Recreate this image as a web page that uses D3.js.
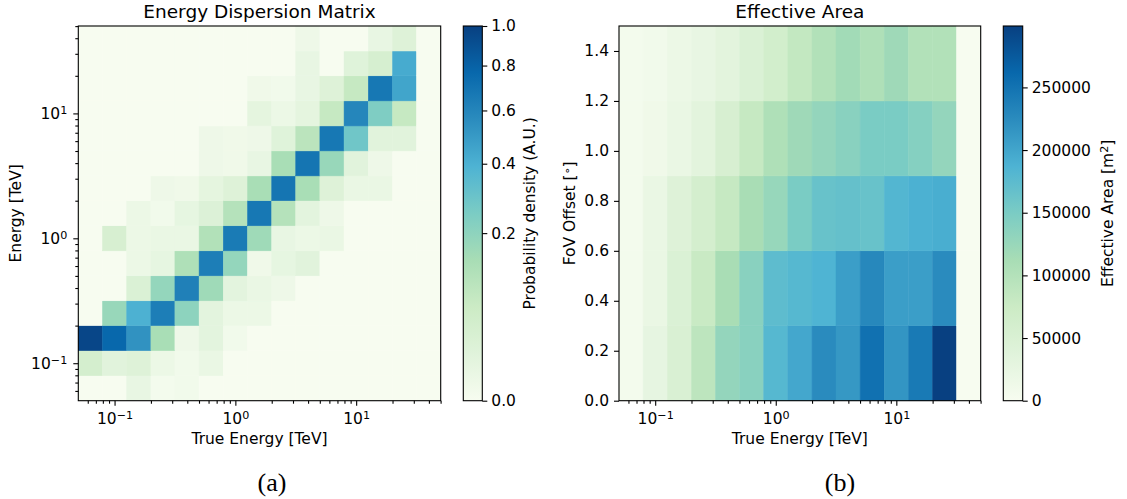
<!DOCTYPE html>
<html>
<head>
<meta charset="utf-8">
<script src="https://cdn.jsdelivr.net/npm/d3@7"></script>
<style>
body { margin:0; background:#fff; }
text { font-family: "DejaVu Sans", sans-serif; fill:#000; }
text.caption { font-family: "Liberation Serif", serif; }
</style>
</head>
<body>
<svg id="fig" width="1127" height="499"></svg>
<script>

// energy bin edges [TeV], 5 bins per decade
var energyEdges = [0.0501, 0.0794, 0.126, 0.2, 0.316, 0.501, 0.794, 1.26, 2.0, 3.16, 5.01, 7.94, 12.6, 20.0, 31.6, 50.1];
var offsetEdges = [0, 0.3, 0.6, 0.9, 1.2, 1.5];

var energyTicks = [0.1, 1, 10];
var densityTicks = [0, 0.2, 0.4, 0.6, 0.8, 1.0];
var offsetTicks = [0, 0.2, 0.4, 0.6, 0.8, 1.0, 1.2, 1.4];
var areaTicks = [0, 50000, 100000, 150000, 200000, 250000];

// rows: reconstructed energy bin (lowest first), columns: true energy bin
var dispersion = [
  [0, 0, 0.0064, 0.0004, 0.0009, 0, 0, 0, 0, 0, 0, 0, 0, 0, 0],
  [0.04, 0.0144, 0.0196, 0.0036, 0.0009, 0.0049, 0, 0, 0, 0, 0, 0, 0, 0, 0],
  [0.96, 0.766, 0.533, 0.137, 0.0025, 0.0121, 0.0009, 0, 0, 0, 0, 0, 0, 0, 0],
  [0, 0.176, 0.397, 0.64, 0.203, 0.0121, 0.0036, 0.0036, 0, 0, 0, 0, 0, 0, 0],
  [0, 0, 0.0256, 0.185, 0.624, 0.16, 0.0121, 0.0049, 0.0025, 0, 0, 0, 0, 0, 0],
  [0, 0, 0.0036, 0.0081, 0.123, 0.64, 0.185, 0.0016, 0.0081, 0.0144, 0, 0, 0, 0, 0],
  [0, 0.0324, 0.0036, 0.0049, 0.0049, 0.116, 0.656, 0.16, 0.0064, 0.0036, 0.0049, 0, 0, 0, 0],
  [0, 0, 0.0036, 0.0009, 0.0081, 0.0225, 0.109, 0.672, 0.109, 0.0121, 0.0025, 0, 0, 0, 0],
  [0, 0, 0, 0.0025, 0.0016, 0.01, 0.0196, 0.137, 0.689, 0.137, 0.0196, 0.0049, 0.0049, 0, 0],
  [0, 0, 0, 0, 0, 0.0025, 0.0016, 0.0064, 0.137, 0.689, 0.176, 0.0144, 0.0025, 0, 0],
  [0, 0, 0, 0, 0, 0.0025, 0.0016, 0.0025, 0.0169, 0.096, 0.672, 0.281, 0.0144, 0.0144, 0],
  [0, 0, 0, 0, 0, 0, 0, 0.01, 0.0036, 0.01, 0.073, 0.593, 0.24, 0.073, 0],
  [0, 0, 0, 0, 0, 0, 0, 0.0016, 0.0009, 0.0064, 0.0196, 0.073, 0.672, 0.449, 0],
  [0, 0, 0, 0, 0, 0, 0, 0, 0, 0.0064, 0, 0.0169, 0.0361, 0.423, 0],
  [0, 0, 0, 0, 0, 0, 0, 0, 0, 0.0025, 0, 0, 0.0064, 0.0196, 0]
];

// rows: FoV offset bin (0-0.3 first), columns: true energy bin [m^2]
var effArea = [
  [6000, 27000, 51000, 90000, 129000, 138000, 180000, 198000, 225000, 213000, 252000, 216000, 243000, 299000, 0],
  [6000, 21000, 48000, 78000, 111000, 138000, 174000, 180000, 186000, 207000, 228000, 207000, 207000, 225000, 0],
  [6000, 21000, 42000, 60000, 81000, 111000, 126000, 150000, 165000, 168000, 165000, 183000, 189000, 192000, 0],
  [6000, 12000, 21000, 33000, 54000, 81000, 105000, 120000, 129000, 138000, 150000, 150000, 141000, 129000, 0],
  [6000, 9000, 18000, 24000, 33000, 48000, 63000, 84000, 102000, 117000, 105000, 120000, 102000, 102000, 0]
];

var gnbu = ['#f7fcf0', '#e0f3db', '#ccebc5', '#a8ddb5', '#7bccc4', '#4eb3d3', '#2b8cbe', '#0868ac', '#084081'];
var cmap = d3.scaleLinear().domain(gnbu.map(function(c, i){ return i / 8; })).range(gnbu).clamp(true);

var fs = 15.5;
var svg = d3.select('#fig');

// gradient for both colorbars
var grad = svg.append('defs').append('linearGradient').attr('id', 'gnbu')
  .attr('x1', 0).attr('y1', 1).attr('x2', 0).attr('y2', 0);
gnbu.forEach(function(c, i){ grad.append('stop').attr('offset', (i / 8 * 100) + '%').attr('stop-color', c); });

function powLabels(sel){
  sel.each(function(d){
    var t = d3.select(this);
    var e = Math.round(Math.log10(d));
    t.text(null);
    t.append('tspan').text('10');
    t.append('tspan').attr('dy', '-0.42em').attr('font-size', '0.72em').text(e < 0 ? '\u2212' + (-e) : e);
  });
}

function styleAxis(g){
  g.select('.domain').remove();
  g.attr('font-size', fs);
  g.selectAll('line').attr('stroke', '#000').attr('stroke-width', 1.1);
}

function minorAxis(g, axis, scale){
  var minors = scale.ticks().filter(function(v){ return energyTicks.indexOf(v) < 0 && Math.abs(Math.log10(v) % 1) > 1e-6; });
  g.call(axis(scale).tickValues(minors).tickSize(3).tickFormat(''));
  styleAxis(g);
}

function heatmap(box, xs, ys, xEdges, yEdges, matrix, norm){
  var cells = [];
  matrix.forEach(function(row, j){ row.forEach(function(v, i){ cells.push({i: i, j: j, v: v}); }); });
  svg.append('g').selectAll('rect').data(cells).enter().append('rect')
    .attr('x', function(d){ return xs(xEdges[d.i]); })
    .attr('y', function(d){ return ys(yEdges[d.j + 1]); })
    .attr('width', function(d){ return xs(xEdges[d.i + 1]) - xs(xEdges[d.i]); })
    .attr('height', function(d){ return ys(yEdges[d.j]) - ys(yEdges[d.j + 1]); })
    .attr('fill', function(d){ return cmap(norm(d.v)); })
    .attr('stroke', function(d){ return cmap(norm(d.v)); })
    .attr('stroke-width', 0.5);
  svg.append('rect').attr('x', box.left).attr('y', box.top)
    .attr('width', box.right - box.left).attr('height', box.bottom - box.top)
    .attr('fill', 'none').attr('stroke', '#000').attr('stroke-width', 1.1);
}

function colorbar(x0, x1, top, bottom, scale, ticks, fmt){
  svg.append('rect').attr('x', x0).attr('y', top).attr('width', x1 - x0).attr('height', bottom - top)
    .attr('fill', 'url(#gnbu)').attr('stroke', '#000').attr('stroke-width', 1.1);
  var g = svg.append('g').attr('transform', 'translate(' + x1 + ',0)')
    .call(d3.axisRight(scale).tickValues(ticks).tickSize(5).tickPadding(4).tickFormat(fmt));
  styleAxis(g);
}

// ---- (a) energy dispersion ----
var A = {left: 78.3, right: 440.7, top: 26, bottom: 400.7};
var xa = d3.scaleLog().domain([energyEdges[0], energyEdges[15]]).range([A.left, A.right]);
var ya = d3.scaleLog().domain([energyEdges[0], energyEdges[15]]).range([A.bottom, A.top]);
var normA = d3.scalePow().exponent(0.5).domain([0, 1]).range([0, 1]).clamp(true);

heatmap(A, xa, ya, energyEdges, energyEdges, dispersion, normA);

var gx = svg.append('g').attr('transform', 'translate(0,' + A.bottom + ')')
  .call(d3.axisBottom(xa).tickValues(energyTicks).tickSize(5).tickPadding(7));
styleAxis(gx); gx.selectAll('text').call(powLabels);
minorAxis(svg.append('g').attr('transform', 'translate(0,' + A.bottom + ')'), d3.axisBottom, xa);

var gy = svg.append('g').attr('transform', 'translate(' + A.left + ',0)')
  .call(d3.axisLeft(ya).tickValues(energyTicks).tickSize(5).tickPadding(6));
styleAxis(gy); gy.selectAll('text').call(powLabels);
minorAxis(svg.append('g').attr('transform', 'translate(' + A.left + ',0)'), d3.axisLeft, ya);

svg.append('text').attr('x', (A.left + A.right) / 2).attr('y', 18.3).attr('text-anchor', 'middle')
  .attr('font-size', 18.5).text('Energy Dispersion Matrix');
svg.append('text').attr('x', (A.left + A.right) / 2).attr('y', 444).attr('text-anchor', 'middle')
  .attr('font-size', fs).text('True Energy [TeV]');
svg.append('text').attr('transform', 'translate(21,' + (A.top + A.bottom) / 2 + ') rotate(-90)')
  .attr('text-anchor', 'middle').attr('font-size', fs).text('Energy [TeV]');

var cbA = d3.scalePow().exponent(0.5).domain([0, 1]).range([A.bottom, A.top]);
colorbar(463.3, 482.3, A.top, A.bottom, cbA, densityTicks, d3.format('.1f'));
svg.append('text').attr('transform', 'translate(535,' + (A.top + A.bottom) / 2 + ') rotate(-90)')
  .attr('text-anchor', 'middle').attr('font-size', fs).text('Probability density (A.U.)');

// ---- (b) effective area ----
var B = {left: 619, right: 980.7, top: 26, bottom: 400.7};
var xb = d3.scaleLog().domain([energyEdges[0], energyEdges[15]]).range([B.left, B.right]);
var yb = d3.scaleLinear().domain([offsetEdges[0], offsetEdges[5]]).range([B.bottom, B.top]);
var areaMax = d3.max(effArea, function(r){ return d3.max(r); });
var normB = d3.scaleLinear().domain([0, areaMax]).range([0, 1]).clamp(true);

heatmap(B, xb, yb, energyEdges, offsetEdges, effArea, normB);

var gxb = svg.append('g').attr('transform', 'translate(0,' + B.bottom + ')')
  .call(d3.axisBottom(xb).tickValues(energyTicks).tickSize(5).tickPadding(7));
styleAxis(gxb); gxb.selectAll('text').call(powLabels);
minorAxis(svg.append('g').attr('transform', 'translate(0,' + B.bottom + ')'), d3.axisBottom, xb);

var gyb = svg.append('g').attr('transform', 'translate(' + B.left + ',0)')
  .call(d3.axisLeft(yb).tickValues(offsetTicks).tickSize(5).tickPadding(5).tickFormat(d3.format('.1f')));
styleAxis(gyb);

svg.append('text').attr('x', (B.left + B.right) / 2).attr('y', 18.3).attr('text-anchor', 'middle')
  .attr('font-size', 18.5).text('Effective Area');
svg.append('text').attr('x', (B.left + B.right) / 2).attr('y', 444).attr('text-anchor', 'middle')
  .attr('font-size', fs).text('True Energy [TeV]');
var fov = svg.append('text').attr('transform', 'translate(575,' + (B.top + B.bottom) / 2 + ') rotate(-90)')
  .attr('text-anchor', 'middle').attr('font-size', fs);
fov.append('tspan').text('FoV Offset [');
fov.append('tspan').attr('dy', '-0.4em').attr('font-size', '0.72em').text('\u2218');
fov.append('tspan').attr('dy', '0.29em').text(']');

var cbB = d3.scaleLinear().domain([0, areaMax]).range([B.bottom, B.top]);
colorbar(1003.3, 1022.7, B.top, B.bottom, cbB, areaTicks, d3.format('d'));
var eal = svg.append('text').attr('transform', 'translate(1113,' + (B.top + B.bottom) / 2 + ') rotate(-90)')
  .attr('text-anchor', 'middle').attr('font-size', fs);
eal.append('tspan').text('Effective Area [m');
eal.append('tspan').attr('dy', '-0.42em').attr('font-size', '0.72em').text('2');
eal.append('tspan').attr('dy', '0.3em').text(']');

// sub-captions
svg.append('text').attr('class', 'caption').attr('x', 272).attr('y', 491).attr('text-anchor', 'middle')
  .attr('font-size', 26).text('(a)');
svg.append('text').attr('class', 'caption').attr('x', 840).attr('y', 491).attr('text-anchor', 'middle')
  .attr('font-size', 26).text('(b)');

</script>
</body>
</html>
